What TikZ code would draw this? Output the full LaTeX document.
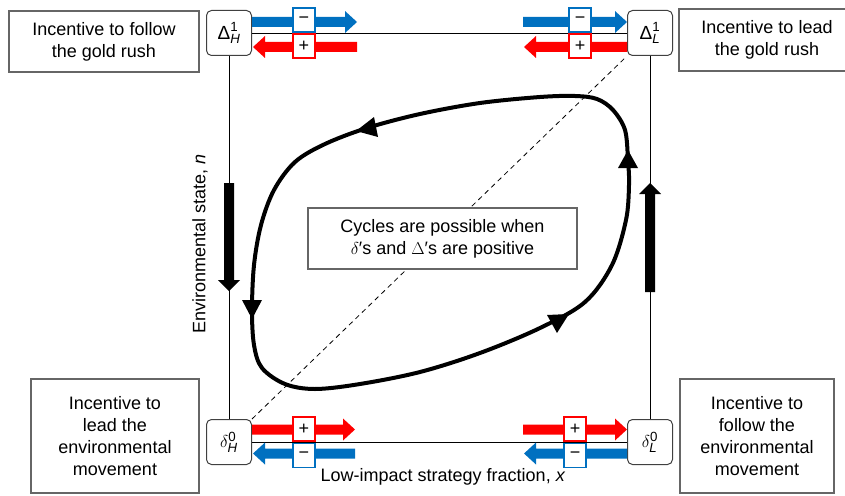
\documentclass[tikz,border=0pt]{standalone}
\usepackage{fontspec}
\setmainfont{Liberation Sans}
\usetikzlibrary{calc}
\definecolor{myblue}{HTML}{0070C0}
\definecolor{myred}{HTML}{FF0000}
\newcommand\hfat[4]{% color, y, x tail, x tip
  \pgfmathsetmacro\hb{#4-12*sign(#4-#3)}
  \fill[#1] (#3,#2-5) -- (\hb,#2-5) -- (\hb,#2-11) -- (#4,#2) -- (\hb,#2+11) -- (\hb,#2+5) -- (#3,#2+5) -- cycle;}
\newcommand\vfat[4]{% color, x, y tail, y tip
  \pgfmathsetmacro\hb{#4-11*sign(#4-#3)}
  \fill[#1] (#2-5,#3) -- (#2-5,\hb) -- (#2-11,\hb) -- (#2,#4) -- (#2+11,\hb) -- (#2+5,\hb) -- (#2+5,#3) -- cycle;}
\begin{document}
\begin{tikzpicture}[x=1pt,y=-1pt, font=\fontsize{18}{22}\selectfont,
 lbl/.style={draw=black!60, line width=1.2pt, align=center, inner sep=0pt, fill=white},
 cnr/.style={draw=black!75, rounded corners=5pt, line width=1pt, minimum width=45pt, minimum height=45pt, inner sep=0pt, fill=white, font=\fontsize{19}{19}\selectfont},
 sgn/.style={draw=#1, line width=1.8pt, fill=white, minimum width=22pt, minimum height=24pt, inner sep=0pt, font=\fontsize{18}{18}\selectfont},
 ax/.style={line width=0.8pt},
 loopline/.style={line width=4pt, line join=round},
]
\useasboundingbox (0,0) rectangle (845,495);
% corner nodes
\node[cnr] (DH) at (229,33) {$\mbox{Δ}^{\mathrm{1}}_{\mathit{H}}$};
\node[cnr] (DL) at (650,33) {$\mbox{Δ}^{\mathrm{1}}_{\mathit{L}}$};
\node[cnr] (dH) at (229,442) {$\delta^{\mathrm{0}}_{\mathit{H}}$};
\node[cnr] (dL) at (650,442) {$\delta^{\mathrm{0}}_{\mathit{L}}$};
% square
\draw[ax] (DH) -- (DL);
\draw[ax] (DH) -- (dH);
\draw[ax] (dH) -- (dL);
\draw[ax] (DL) -- (dL);
% diagonal
\draw[ax, dash pattern=on 5pt off 4pt] (dH.north east) -- (DL.south west);
% cycle
\draw[loopline] plot[smooth cycle, tension=0.55] coordinates {
 (628,160) (625,130) (613,110) (597,99) (575,96) (540,97) (480,103) (420,114)
 (367,128) (325,144) (295,162) (274,190) (261,225) (254,265) (252,310) (254,345)
 (262,368) (285,384) (315,389) (360,384) (420,372) (480,353) (540,328) (585,302)
 (612,265) (626,220) (629,185)};
\fill (628,150) -- (618,168) -- (638,168) -- cycle;
\fill (356,131) -- (378,137) -- (374,117) -- cycle;
\fill (252,319) -- (242,300) -- (262,300) -- cycle;
\fill (569,314) -- (557,333) -- (547,315) -- cycle;
% centre box
\node[lbl, minimum width=269pt, minimum height=61pt] (cyc) at (442.5,238.5)
 {Cycles are possible when\\$\delta$′s and $\Delta$′s are positive};
% corner labels
\node[lbl, minimum width=190pt, minimum height=61pt] (L1) at (104,41.5) {Incentive to follow\\the gold rush};
\node[lbl, minimum width=176pt, minimum height=62pt] (L2) at (767,40) {Incentive to lead\\the gold rush};
\node[lbl, minimum width=168pt, minimum height=114pt] (L3) at (115,436) {Incentive to\\lead the\\environmental\\movement};
\node[lbl, minimum width=154pt, minimum height=114pt] (L4) at (757,436) {Incentive to\\follow the\\environmental\\movement};
% axis labels
\node[rotate=90] (ylab) at (200,244) {Environmental state, \textit{n}};
\node (xlab) at (443,477) {Low-impact strategy fraction, \textit{x}};
% vertical fat arrows
\vfat{black}{229}{183}{291}
\vfat{black}{650}{292}{183}
% horizontal fat arrows
\hfat{myblue}{22}{252}{357}
\hfat{myred}{47}{357}{253}
\hfat{myblue}{22}{523}{627}
\hfat{myred}{47}{627}{524}
\hfat{myred}{429.5}{252}{355}
\hfat{myblue}{453.5}{355}{253}
\hfat{myred}{429.5}{523}{627}
\hfat{myblue}{453.5}{627}{524}
% sign boxes
\node[sgn=myblue] (s1) at (304,20) {−};
\node[sgn=myred] (s2) at (304,46) {+};
\node[sgn=myblue] (s3) at (580,20) {−};
\node[sgn=myred] (s4) at (580,46) {+};
\node[sgn=myred] (s5) at (304,429) {+};
\node[sgn=myblue] (s6) at (304,455.5) {−};
\node[sgn=myred] (s7) at (575,429) {+};
\node[sgn=myblue] (s8) at (575,455.5) {−};
\end{tikzpicture}
\end{document}
